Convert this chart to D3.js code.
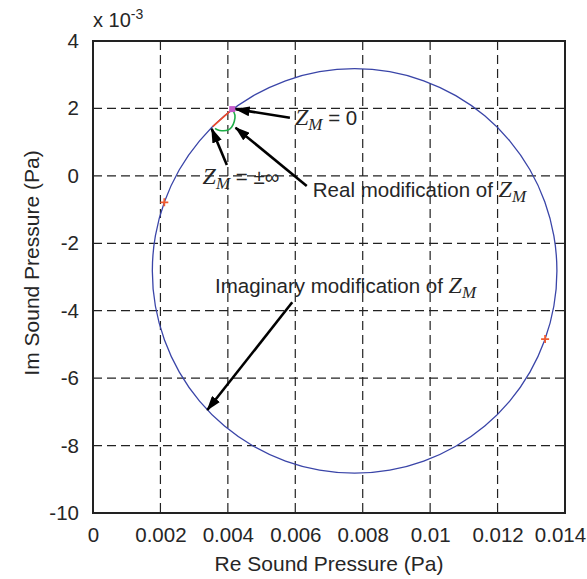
<!DOCTYPE html>
<html><head><meta charset="utf-8">
<script src="https://cdn.jsdelivr.net/npm/d3@7"></script>
<style>
html,body{margin:0;padding:0;background:#fff;}
svg{display:block;}
</style></head>
<body>
<svg id="chart" width="587" height="579"></svg>
<script>
// ---- data (Re in Pa, Im in units of 1e-3 Pa) ----
const circleRe = [0.01376,0.01367,0.01340,0.01296,0.01236,0.01162,0.01076,0.00981,0.00880,0.00776,0.00672,0.00571,0.00476,0.00390,0.00316,0.00256,0.00212,0.00185,0.00176,0.00185,0.00212,0.00256,0.00316,0.00390,0.00476,0.00571,0.00672,0.00776,0.00880,0.00981,0.01076,0.01162,0.01236,0.01296,0.01340,0.01367];
const circleIm = [-2.82,-1.78,-0.77,0.18,1.04,1.78,2.38,2.82,3.09,3.18,3.09,2.82,2.38,1.78,1.04,0.18,-0.77,-1.78,-2.82,-3.86,-4.87,-5.82,-6.68,-7.42,-8.02,-8.46,-8.73,-8.82,-8.73,-8.46,-8.02,-7.42,-6.68,-5.82,-4.87,-3.86];
const realModRe = [0.00413,0.00384,0.00355];
const realModIm = [1.98,1.72,1.46];
const imagArcRe = [0.00413,0.00421,0.00419,0.00411,0.00401,0.00382,0.00369,0.00362];
const imagArcIm = [1.98,1.80,1.61,1.44,1.36,1.34,1.37,1.41];
const crossRe = [0.002115,0.01341];
const crossIm = [-0.785,-4.84];
const zeroRe = [0.00413];
const zeroIm = [1.98];
const reTicks = [0,0.002,0.004,0.006,0.008,0.01,0.012,0.014];
const reTickLabels = ["0","0.002","0.004","0.006","0.008","0.01","0.012","0.014"];
const imTicks = [-10,-8,-6,-4,-2,0,2,4];
const imTickLabels = ["-10","-8","-6","-4","-2","0","2","4"];
// annotations: [startRe, startIm, tipRe, tipIm]
const arrowStartRe = [0.00584,0.00397,0.00634,0.00591];
const arrowStartIm = [1.725,0.32,-0.30,-3.75];
const arrowTipRe = [0.00423,0.00352,0.00423,0.00339];
const arrowTipIm = [1.98,1.40,1.43,-6.945];
const labelRe = [0.00599,0.00325,0.00652,0.00362];
const labelIm = [1.51,-0.24,-0.62,-3.48];
const labelPre = ["","","Real modification of ","Imaginary modification of "];
const labelPost = [" = 0"," = \u00b1\u221e","",""];

// ---- layout ----
const L = 93, T = 41, W = 472, H = 472;
const svg = d3.select("#chart");
const x = d3.scaleLinear().domain([0,0.014]).range([L, L+W]);
const y = d3.scaleLinear().domain([-10,4]).range([T+H, T]);
const sans = "Liberation Sans, Arial, sans-serif";
const serif = "Liberation Serif, Times New Roman, serif";
const ink = "#262626";

// grid
const g = svg.append("g");
g.selectAll("line.vg").data(reTicks.slice(1,-1)).enter().append("line")
  .attr("x1",d=>x(d)).attr("x2",d=>x(d)).attr("y1",T).attr("y2",T+H)
  .attr("stroke","#222").attr("stroke-width",1.2).attr("stroke-dasharray","9,5");
g.selectAll("line.hg").data(imTicks.slice(1,-1)).enter().append("line")
  .attr("y1",d=>y(d)).attr("y2",d=>y(d)).attr("x1",L).attr("x2",L+W)
  .attr("stroke","#222").attr("stroke-width",1.2).attr("stroke-dasharray","9,5");

// axes via d3
const xAxis = d3.axisBottom(x).tickValues(reTicks).tickFormat((d,i)=>reTickLabels[i]).tickSize(0).tickPadding(14);
const yAxis = d3.axisLeft(y).tickValues(imTicks).tickFormat((d,i)=>imTickLabels[i]).tickSize(0).tickPadding(14);
const ax = svg.append("g").attr("transform",`translate(0,${T+H})`).call(xAxis);
const ay = svg.append("g").attr("transform",`translate(${L},0)`).call(yAxis);
[ax,ay].forEach(a=>{
  a.select(".domain").remove();
  a.selectAll("text").attr("font-family",sans).attr("font-size",20.5).attr("fill",ink);
});
ax.selectAll("text").attr("dy","0.71em").attr("y",14);
ax.selectAll(".tick").filter((d,i,n)=>i===n.length-1).select("text").attr("dx",-5);
ay.selectAll("text").attr("x",-14);

// circle
const pts = circleRe.map((r,i)=>[r,circleIm[i]]);
svg.append("path").datum(pts)
  .attr("d", d3.line().x(d=>x(d[0])).y(d=>y(d[1])).curve(d3.curveCatmullRomClosed))
  .attr("fill","none").attr("stroke","#3a45a8").attr("stroke-width",1.3);
// real modification arc (red)
svg.append("path").datum(realModRe.map((r,i)=>[r,realModIm[i]]))
  .attr("d", d3.line().x(d=>x(d[0])).y(d=>y(d[1])).curve(d3.curveCatmullRom))
  .attr("fill","none").attr("stroke","#f04a28").attr("stroke-width",1.6);
// imaginary arc (green)
svg.append("path").datum(imagArcRe.map((r,i)=>[r,imagArcIm[i]]))
  .attr("d", d3.line().x(d=>x(d[0])).y(d=>y(d[1])).curve(d3.curveCatmullRom))
  .attr("fill","none").attr("stroke","#1fae48").attr("stroke-width",1.6);
// cross markers
const cr = svg.append("g");
crossRe.forEach((r,i)=>{
  const cx=x(r), cy=y(crossIm[i]);
  cr.append("path").attr("d",`M${cx-4},${cy}H${cx+4}M${cx},${cy-4}V${cy+4}`)
    .attr("stroke","#f05a30").attr("stroke-width",1.8);
});
// zero marker (magenta)
zeroRe.forEach((r,i)=>{
  svg.append("rect").attr("x",x(r)-3).attr("y",y(zeroIm[i])-3).attr("width",6).attr("height",6)
    .attr("fill","#c45ac8");
});

// box
svg.append("rect").attr("x",L).attr("y",T).attr("width",W).attr("height",H)
  .attr("fill","none").attr("stroke","#222").attr("stroke-width",2);

// arrows
const defs = svg.append("defs");
defs.append("marker").attr("id","ah").attr("viewBox","0 0 15 10").attr("refX",14).attr("refY",5)
  .attr("markerWidth",15).attr("markerHeight",10).attr("markerUnits","userSpaceOnUse").attr("orient","auto")
  .append("path").attr("d","M0,0L15,5L0,10Z").attr("fill","#000");
arrowStartRe.forEach((r,i)=>{
  svg.append("line").attr("x1",x(r)).attr("y1",y(arrowStartIm[i]))
    .attr("x2",x(arrowTipRe[i])).attr("y2",y(arrowTipIm[i]))
    .attr("stroke","#000").attr("stroke-width",2.6).attr("marker-end","url(#ah)");
});

// labels
labelRe.forEach((r,i)=>{
  const t = svg.append("text").attr("x",x(r)).attr("y",y(labelIm[i]))
    .attr("font-family",sans).attr("font-size",20.5).attr("fill",ink);
  if(labelPre[i]) t.append("tspan").text(labelPre[i]);
  t.append("tspan").attr("font-family",serif).attr("font-style","italic").attr("font-size",24).text("Z");
  t.append("tspan").attr("font-family",serif).attr("font-style","italic").attr("font-size",17).attr("dy",5).text("M");
  if(labelPost[i]) t.append("tspan").attr("dy",-5).text(labelPost[i]);
});

// axis titles
svg.append("text").attr("x",L+W/2).attr("y",571).attr("text-anchor","middle")
  .attr("font-family",sans).attr("font-size",21).attr("fill",ink).text("Re Sound Pressure (Pa)");
svg.append("text").attr("transform",`translate(39,${T+H/2-14}) rotate(-90)`).attr("text-anchor","middle")
  .attr("font-family",sans).attr("font-size",21).attr("fill",ink).text("Im Sound Pressure (Pa)");
// exponent
const ex = svg.append("text").attr("x",L).attr("y",27).attr("font-family",sans).attr("font-size",20).attr("fill",ink);
ex.append("tspan").text("x 10");
ex.append("tspan").attr("font-size",14).attr("dy",-8).text("-3");
</script>
</body></html>
